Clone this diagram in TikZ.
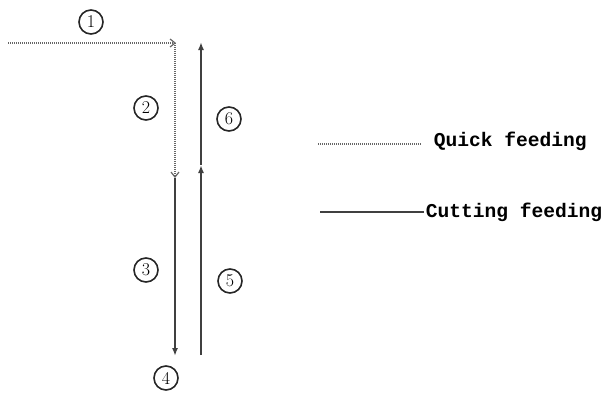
\documentclass[tikz,border=0pt]{standalone}
\usepackage{fontspec}
\setmonofont{Liberation Mono}
\usetikzlibrary{arrows.meta}
\tikzstyle{quick} = [black!60, line width=1.2pt, dash pattern=on 1pt off 1pt, -{Straight Barb[length=5pt,width=8pt,line width=1.2pt]}]
\tikzstyle{cutting} = [black!75, line width=1.8pt, -{Latex[length=8pt,width=6pt]}]
\tikzstyle{legend} = [font=\ttfamily\bfseries\fontsize{19.6}{20}\selectfont, anchor=west, inner sep=0pt, draw=none, rectangle, minimum size=0pt]

\begin{document}
\begin{tikzpicture}[x=1pt, y=-1pt, every node/.style={circle, draw=black!85, line width=1.6pt, inner sep=0pt, minimum size=24pt, font=\fontsize{18}{18}\selectfont}]
        \useasboundingbox (0,0) rectangle (609,394);
        % Node positions
        \coordinate (S) at (8,43);
        \coordinate (A) at (176,43);
        \coordinate (B) at (175,178);
        \coordinate (C) at (175,356);
        \coordinate (D) at (201,355);
        \coordinate (E) at (201,165);
        \coordinate (F) at (201,42);

        \node (n1) at (91,22) {1};
        \node (n2) at (146,108) {2};
        \node (n3) at (146,270) {3};
        \node (n4) at (166,378) {4};
        \node (n5) at (230,281) {5};
        \node (n6) at (229,119) {6};

        \draw[quick] (S) -- (A);
        \draw[quick] (175,43) -- (B);
        \draw[cutting] (B) -- (C);
        \draw[cutting] (D) -- (E);
        \draw[cutting] (E) -- (F);

        % Legend
        \coordinate (Q1) at (318,144);
        \coordinate (Q2) at (422,144);
        \coordinate (K1) at (320,212);
        \coordinate (K2) at (424,212);
        \draw[quick, -] (Q1) -- (Q2);
        \draw[cutting, line width=1.3pt, -] (K1) -- (K2);
        \node[legend] (q) at (433,141) {Quick feeding};
        \node[legend] (k) at (425,212) {Cutting feeding};
      \end{tikzpicture}
\end{document}
